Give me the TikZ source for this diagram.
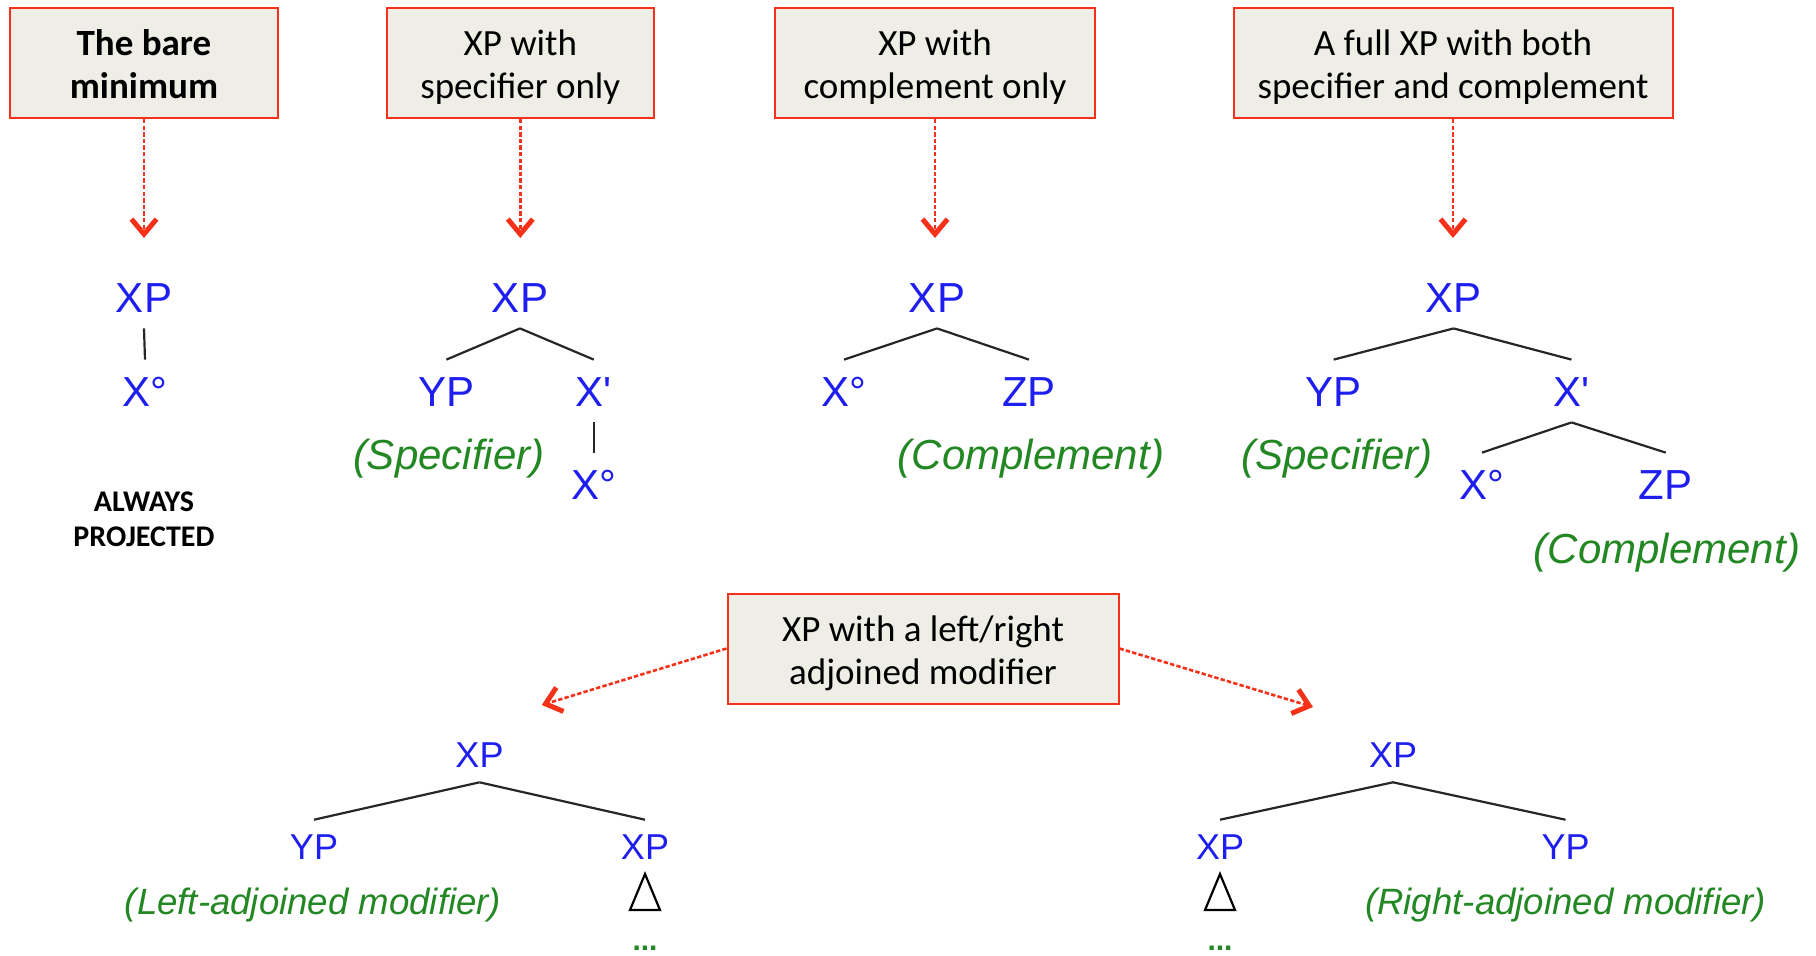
\documentclass[tikz,border=0pt]{standalone}
\usepackage{fontspec}
\setmainfont{Carlito}
\newfontfamily\hv{Liberation Sans}
\usetikzlibrary{arrows.meta}
\definecolor{boxred}{RGB}{245,50,25}
\definecolor{boxfill}{RGB}{239,238,230}
\definecolor{treeblue}{RGB}{30,30,240}
\definecolor{treegreen}{RGB}{35,135,35}
\newcommand{\boxtext}[2]{\raisebox{-2.7pt}[\height][\depth]{\begin{tabular}{@{}c@{}}#1\\#2\end{tabular}}}
\begin{document}
\begin{tikzpicture}[x=0.5pt,y=-0.5pt,
 box/.style={draw=boxred,line width=1pt,fill=boxfill,font=\fontsize{18.5}{21.5}\selectfont,minimum height=55pt,inner sep=0pt},
 redarrow/.style={draw=boxred,line width=1.3pt,dash pattern=on 2.2pt off 1.1pt,-{Straight Barb[length=7.5pt,width=12.5pt,line width=2.5pt]}},
 lab/.style={font=\hv\fontsize{21}{21}\selectfont,text=treeblue,text height=15pt,text depth=0pt,inner xsep=1pt,inner ysep=8pt},
 slab/.style={font=\hv\fontsize{18}{18}\selectfont,text=treeblue,text height=12.9pt,text depth=0pt,inner xsep=1pt,inner ysep=7pt},
 glab/.style={font=\hv\itshape\fontsize{21}{21}\selectfont,text=treegreen,inner sep=0pt},
 sglab/.style={font=\hv\itshape\fontsize{18.3}{18.3}\selectfont,text=treegreen,inner sep=0pt},
 dots/.style={font=\hv\bfseries\fontsize{15}{15}\selectfont,text=treegreen,inner sep=0pt,anchor=base},
 branch/.style={draw=black!85,line width=1.1pt},
 tri/.style={draw=black,fill=white,line width=1.1pt,line join=miter},
 ]
\fill[white] (0,0) rectangle (1816,955);
\useasboundingbox (0,0) rectangle (1816,955);

% header boxes
\node[box,minimum width=134pt] (b1) at (144,63) {\bfseries\boxtext{The bare}{minimum}};
\node[box,minimum width=133.7pt] (b2) at (520.3,63) {\boxtext{XP with}{specifier only}};
\node[box,minimum width=160.3pt] (b3) at (935,63) {\boxtext{XP with}{complement only}};
\node[box,minimum width=219.5pt] (b4) at (1453,63) {\boxtext{A full XP with both}{specifier and complement}};
\node[box,minimum width=195.5pt] (b5) at (923,648.5) {\boxtext{XP with a left/right}{adjoined modifier}};

\coordinate (t1) at (144,238);
\coordinate (t2) at (520.3,238);
\coordinate (t3) at (935,238);
\coordinate (t4) at (1453,238);
\coordinate (t5) at (541.8,705);
\coordinate (t6) at (1313,707);
\draw[redarrow] (b1.south) -- (t1);
\draw[redarrow] (b2.south) -- (t2);
\draw[redarrow] (b3.south) -- (t3);
\draw[redarrow] (b4.south) -- (t4);
\draw[redarrow] (b5.west) -- (t5);
\draw[redarrow] (b5.east) -- (t6);

% tree 1
\node[lab] (a-xp) at (144,297) {XP};
\node[lab] (a-x0) at (145,391) {X°};
\draw[branch] (a-xp.south) -- (a-x0.north);
\node[font=\bfseries\fontsize{15}{17.5}\selectfont,align=center,inner sep=0pt] (always) at (144,519) {ALWAYS\\PROJECTED};

% tree 2
\node[lab] (b-xp) at (520,297) {XP};
\node[lab] (b-yp) at (446.4,391) {YP};
\node[lab] (b-x1) at (593.8,391) {X\textquotesingle};
\node[lab] (b-x0) at (593.8,484) {X°};
\node[glab] (b-spec) at (448.7,459) {(Specifier)};
\draw[branch] (b-xp.south) -- (b-yp.north);
\draw[branch] (b-xp.south) -- (b-x1.north);
\draw[branch] (b-x1.south) -- (b-x0.north);

% tree 3
\node[lab] (c-xp) at (937,297) {XP};
\node[lab] (c-x0) at (844,391) {X°};
\node[lab] (c-zp) at (1029,391) {ZP};
\node[glab] (c-comp) at (1031,459) {(Complement)};
\draw[branch] (c-xp.south) -- (c-x0.north);
\draw[branch] (c-xp.south) -- (c-zp.north);

% tree 4
\node[lab] (d-xp) at (1453.6,297) {XP};
\node[lab] (d-yp) at (1333.7,391) {YP};
\node[lab] (d-x1) at (1571.5,391) {X\textquotesingle};
\node[glab] (d-spec) at (1337,459) {(Specifier)};
\node[lab] (d-x0) at (1482,484) {X°};
\node[lab] (d-zp) at (1665.7,484) {ZP};
\node[glab] (d-comp) at (1667,553) {(Complement)};
\draw[branch] (d-xp.south) -- (d-yp.north);
\draw[branch] (d-xp.south) -- (d-x1.north);
\draw[branch] (d-x1.south) -- (d-x0.north);
\draw[branch] (d-x1.south) -- (d-zp.north);

% tree 5 (left adjunction)
\node[slab] (e-xp) at (479.5,755) {XP};
\node[slab] (e-yp) at (314,847) {YP};
\node[slab] (e-xp2) at (645,847) {XP};
\node[sglab] (e-mod) at (313,905) {(Left-adjoined modifier)};
\draw[branch] (e-xp.south) -- (e-yp.north);
\draw[branch] (e-xp.south) -- (e-xp2.north);
\coordinate (e-tri) at (645,874);
\draw[tri] (e-tri) -- ++(15,36) -- ++(-30,0) -- cycle;
\node[dots] (e-dots) at (645,950) {...};

% tree 6 (right adjunction)
\node[slab] (f-xp) at (1393,755) {XP};
\node[slab] (f-xp2) at (1220,847) {XP};
\node[slab] (f-yp) at (1565.5,847) {YP};
\node[sglab] (f-mod) at (1565.6,905) {(Right-adjoined modifier)};
\draw[branch] (f-xp.south) -- (f-xp2.north);
\draw[branch] (f-xp.south) -- (f-yp.north);
\coordinate (f-tri) at (1220,874);
\draw[tri] (f-tri) -- ++(15,36) -- ++(-30,0) -- cycle;
\node[dots] (f-dots) at (1220,950) {...};
\end{tikzpicture}
\end{document}
